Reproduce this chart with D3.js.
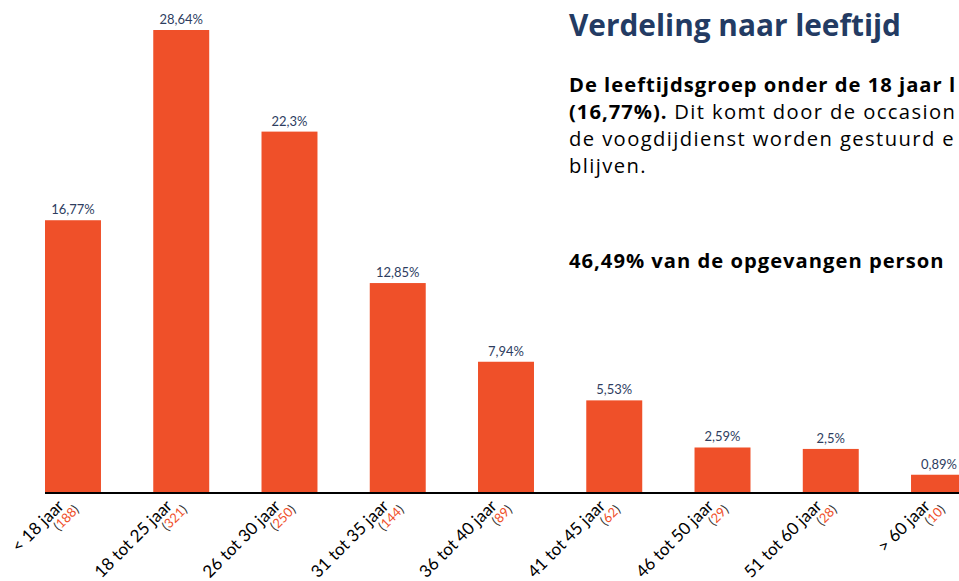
<!DOCTYPE html>
<html>
<head>
<meta charset="utf-8">
<script src="https://cdn.jsdelivr.net/npm/d3@7"></script>
<style>
  body { margin: 0; background: #fff; overflow: hidden; }
</style>
</head>
<body>
<svg id="chart" width="959" height="581"></svg>
<script>
const width = 959;
const height = 581;

const categories = ["< 18 jaar", "18 tot 25 jaar", "26 tot 30 jaar", "31 tot 35 jaar", "36 tot 40 jaar",
  "41 tot 45 jaar", "46 tot 50 jaar", "51 tot 60 jaar", "> 60 jaar"];
const counts = [188, 321, 250, 144, 89, 62, 29, 28, 10];
const percents = [16.77, 28.64, 22.3, 12.85, 7.94, 5.53, 2.59, 2.5, 0.89];
const percentLabels = ["16,77%", "28,64%", "22,3%", "12,85%", "7,94%", "5,53%", "2,59%", "2,5%", "0,89%"];

const title = "Verdeling naar leeftijd";
// text as far as it is visible in the picture
const paragraph = [
  [{ t: "De leeftijdsgroep onder de 18 jaar l", b: true }],
  [{ t: "(16,77%).", b: true }, { t: " Dit komt door de occasion", b: false }],
  [{ t: "de voogdijdienst worden gestuurd e", b: false }],
  [{ t: "blijven.", b: false }],
  [],
  [{ t: "46,49% van de opgevangen person", b: true }]
];

const orange = "#ef5029";
const navy = "#233b63";
const labelNavy = "#2e3d5f";

const svg = d3.select("#chart");

const x = d3.scaleBand()
  .domain(categories)
  .range([45, 967])
  .paddingInner(0.483)
  .paddingOuter(0);

const y = d3.scaleLinear()
  .domain([0, 28.64])
  .range([489, 30]);

const baseY = 493;

// bars
svg.selectAll(".bar")
  .data(percents)
  .enter().append("rect")
  .attr("class", "bar")
  .attr("x", (d, i) => x(categories[i]))
  .attr("y", d => y(d))
  .attr("width", x.bandwidth())
  .attr("height", d => baseY - y(d))
  .attr("fill", orange);

// value labels
svg.selectAll(".val")
  .data(percents)
  .enter().append("text")
  .attr("class", "val")
  .attr("x", (d, i) => x(categories[i]) + x.bandwidth() / 2)
  .attr("y", d => y(d) - 6)
  .attr("text-anchor", "middle")
  .attr("font-family", "Lato, sans-serif")
  .attr("font-size", 13)
  .attr("fill", labelNavy)
  .text((d, i) => percentLabels[i]);

// axis line
svg.append("line")
  .attr("x1", x.range()[0])
  .attr("x2", x.range()[1])
  .attr("y1", baseY)
  .attr("y2", baseY)
  .attr("stroke", "#000")
  .attr("stroke-width", 2);

// category labels
const lab = svg.selectAll(".cat")
  .data(categories)
  .enter().append("g")
  .attr("class", "cat")
  .attr("transform", d => `translate(${x(d) + x.bandwidth() / 2 - 8},${baseY + 14}) rotate(-45)`);

lab.append("text")
  .attr("text-anchor", "end")
  .attr("font-family", "Lato, sans-serif")
  .attr("font-size", 17)
  .attr("fill", "#000")
  .text(d => d);

const sub = lab.append("text")
  .attr("text-anchor", "end")
  .attr("x", 8)
  .attr("y", 13)
  .attr("font-family", "Lato, sans-serif")
  .attr("font-size", 13)
  .attr("fill", "#333");
sub.append("tspan").text("(");
sub.append("tspan").attr("fill", orange).text((d, i) => counts[i]);
sub.append("tspan").text(")");

// text block
svg.append("text")
  .attr("x", 569)
  .attr("y", 36)
  .attr("font-family", "'Open Sans', sans-serif")
  .attr("font-weight", "bold")
  .attr("font-size", 29.8)
  .attr("fill", navy)
  .text(title);

const para = svg.selectAll(".para")
  .data(paragraph)
  .enter().append("text")
  .attr("class", "para")
  .attr("x", 569)
  .attr("y", (d, i) => i < 5 ? 92 + i * 27 : 268)
  .attr("font-family", "'Open Sans', sans-serif")
  .attr("font-size", 20.2)
  .attr("fill", "#000");

para.selectAll("tspan")
  .data(d => d)
  .enter().append("tspan")
  .attr("font-weight", d => d.b ? "bold" : "normal")
  .attr("letter-spacing", d => d.b ? 1.0 : 1.4)
  .text(d => d.t);
</script>
</body>
</html>
